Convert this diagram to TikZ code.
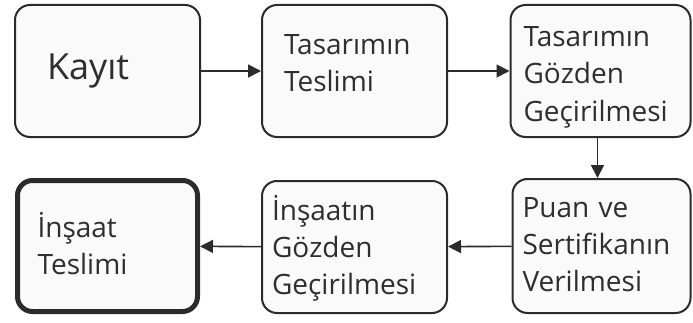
\documentclass[tikz,border=0pt]{standalone}
\usepackage{fontspec}
\setmainfont{Open Sans}
\usetikzlibrary{arrows.meta}
\definecolor{edge}{HTML}{2B2B2B}
\definecolor{ink}{HTML}{2E2E2E}
\definecolor{boxfill}{HTML}{FAFAFA}

\begin{document}
\begin{tikzpicture}[x=1pt,y=1pt,
    stage/.style={draw=edge,line width=2pt,rounded corners=15pt,fill=boxfill,
      text=ink,align=left,inner xsep=15pt,text width=155pt,minimum height=132pt,
      font=\fontsize{28}{37}\selectfont},
    lift/.style={text height=0pt,text depth=#1}, % first baseline #1/2 above centre
    flow/.style={draw=edge,line width=1.6pt,-{Triangle[length=13pt,width=13pt]}}]
    \useasboundingbox (0,0) rectangle (693,322);
    % first row
    \node[stage,font=\fontsize{36}{40}\selectfont,inner xsep=32pt,text width=121pt,
      text height=18pt,text depth=0pt] (kayit) at (107.5,251) {Kayıt};
    \node[stage,lift=32pt,inner xsep=22pt,text width=141pt] (teslim) at (354.5,251) {Tasarımın\\Teslimi};
    \node[stage,lift=48pt,inner xsep=13pt,text width=154pt] (gozden) at (600.5,251) {Tasarımın\\Gözden\\Geçirilmesi};
    % second row
    \node[stage,lift=58pt,inner xsep=10pt,text width=158pt,minimum height=134pt] (puan) at (601.5,76) {Puan ve\\Sertifikanın\\Verilmesi};
    \node[stage,lift=54pt,inner xsep=10pt,text width=165pt] (insaatg) at (354.5,75) {İnşaatın\\Gözden\\Geçirilmesi};
    \node[stage,lift=18pt,line width=5pt,inner xsep=20pt,text width=140pt,minimum height=131pt] (insaat) at (107.5,76) {İnşaat\\Teslimi};
    % connectors
    \draw[flow] (kayit) -- (teslim);
    \draw[flow] (teslim) -- (gozden);
    \draw[flow] (gozden.south) ++(-3,0) coordinate (g1) -- (g1 |- puan.north);
    \draw[flow] (puan) -- (insaatg);
    \draw[flow] (insaatg) -- (insaat);
\end{tikzpicture}
\end{document}
